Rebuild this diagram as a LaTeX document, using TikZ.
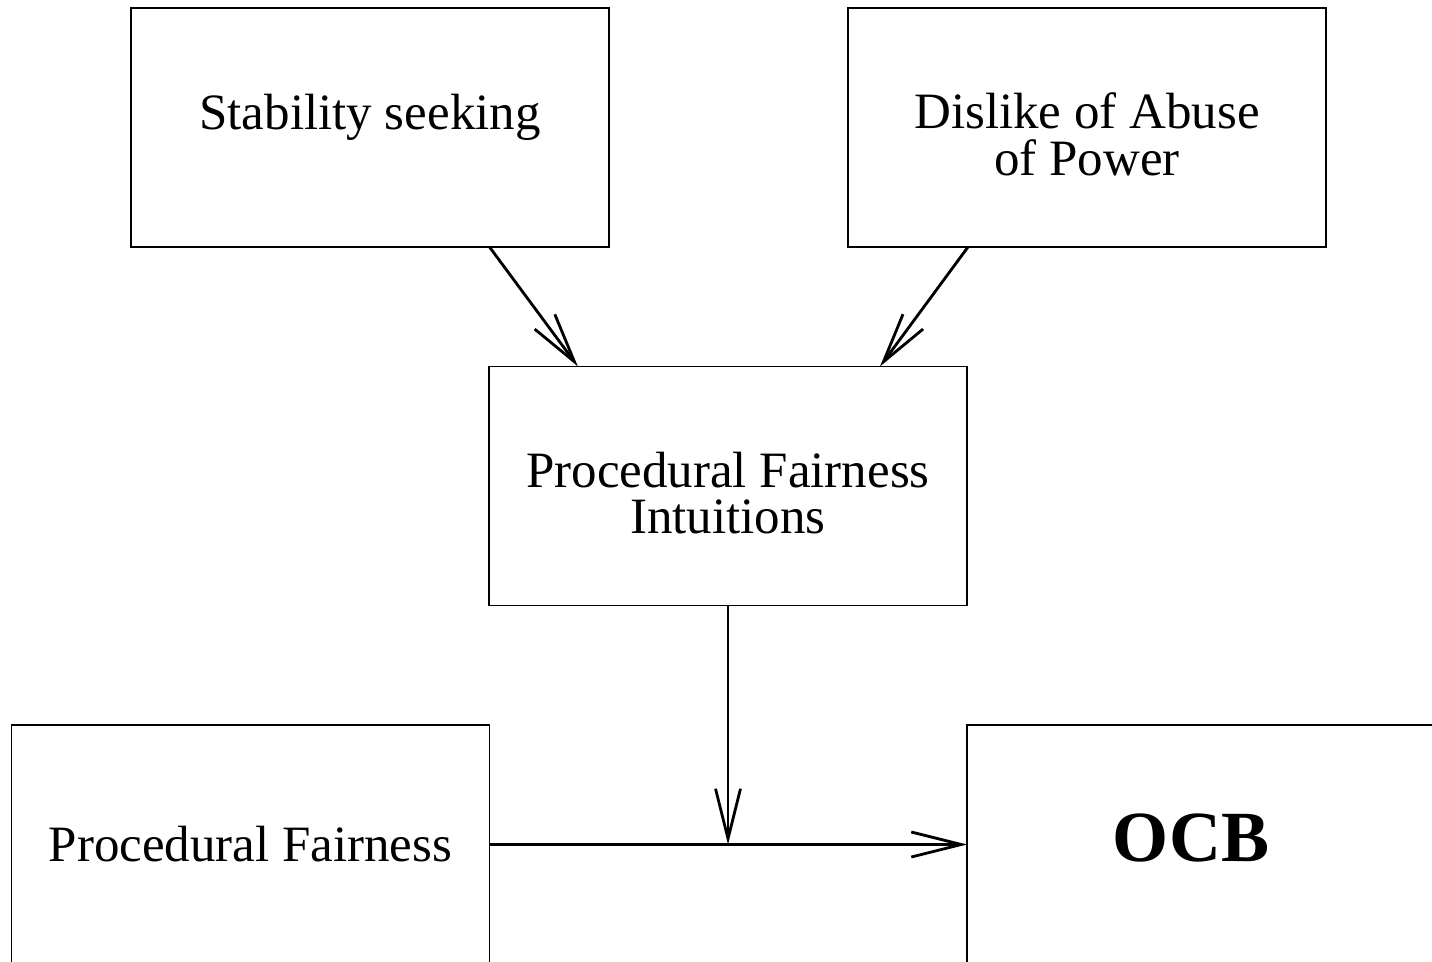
\documentclass[tikz,border=0pt]{standalone}
\usepackage{fontspec}
\setmainfont{Liberation Serif}
\usepackage{tikz}
\usetikzlibrary{calc, arrows.meta}

\begin{document}
\begin{tikzpicture}[x=0.02cm, y=-0.02cm,
        box/.style={draw, line width=0.8pt, minimum width=9.56cm, minimum height=4.78cm,
            inner sep=0pt, outer sep=0pt, align=center, font=\fontsize{29}{26.6}\selectfont},
        twoline/.style={box, text height=1.92cm},
        link/.style={line width=1.6pt, -{Straight Barb[length=1cm, width=0.5cm]}}]
            \clip (0,0) rectangle (1432,962);
            \node[box, text depth=18pt] (stab) at (370,127.5) {Stability seeking};
            \node[twoline] (abuse) at (1087,127.5) {Dislike of Abuse\\of Power};
            \node[twoline] (pfi) at (728,486) {Procedural Fairness\\Intuitions};
            \node[box] (pf) at (250.5,844.5) {Procedural Fairness};
            \node[box, text depth=8pt, font=\fontsize{41}{45}\selectfont\bfseries] (ocb) at (1206,844.5) {OCB\hspace*{0.6cm}};
            \coordinate (meet) at (pfi.south |- pf.east);
            \draw[link] ($(stab.south west)!0.75!(stab.south east)$) -- ($(pfi.north west)!0.186!(pfi.north east)$);
            \draw[link] ($(abuse.south west)!0.251!(abuse.south east)$) -- ($(pfi.north west)!0.818!(pfi.north east)$);
            \draw[link] (pfi.south) -- (meet);
            \draw[link] (pf.east) -- (ocb.west);
        \end{tikzpicture}
\end{document}
